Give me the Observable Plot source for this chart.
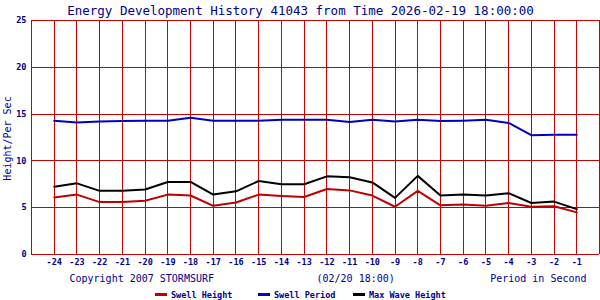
<!DOCTYPE html>
<html>
<head>
<meta charset="utf-8">
<script src="https://cdn.jsdelivr.net/npm/d3@7"></script>
<script src="https://cdn.jsdelivr.net/npm/@observablehq/plot@0.6"></script>
<style>
  body { margin: 0; background: #fff; }
  #wrap { position: relative; width: 600px; height: 300px; overflow: hidden; }
  #legend { position: absolute; left: 0; top: 289px; width: 600px; height: 12px;
            font-family: "DejaVu Sans Mono", monospace; font-size: 8.5px; font-weight: bold; color: #00008b; }
  .item { position: absolute; top: 0; height: 12px; line-height: 12px; white-space: nowrap; }
  .sw { display: inline-block; width: 12px; height: 3px; vertical-align: middle; margin-right: 4px; position: relative; top: -1px; }
</style>
</head>
<body>
<div id="wrap"><div id="chart"></div><div id="legend"></div></div>
<script>
const hours = [-24,-23,-22,-21,-20,-19,-18,-17,-16,-15,-14,-13,-12,-11,-10,-9,-8,-7,-6,-5,-4,-3,-2,-1];
const swellHeight = [6.1,6.4,5.6,5.6,5.75,6.4,6.3,5.2,5.55,6.4,6.25,6.15,7.0,6.85,6.3,5.1,6.8,5.25,5.35,5.2,5.5,5.1,5.15,4.5];
const swellPeriod = [14.3,14.1,14.2,14.25,14.3,14.3,14.6,14.3,14.3,14.3,14.4,14.4,14.4,14.15,14.4,14.2,14.4,14.25,14.3,14.4,14.05,12.75,12.8,12.8];
const maxWave = [7.25,7.6,6.8,6.8,6.95,7.75,7.75,6.4,6.75,7.85,7.5,7.5,8.35,8.25,7.7,6.05,8.4,6.3,6.4,6.3,6.55,5.5,5.65,4.85];
const yTicks = [0,5,10,15,20,25];
const xBorders = [-25, 0];
const seriesNames = ["Swell Height", "Swell Period", "Max Wave Height"];
const seriesColors = ["#c00000", "#0000c0", "#000000"];
const titleText = "Energy Development History 41043 from Time 2026-02-19 18:00:00";
const yLabel = "Height/Per Sec";
const footLeft = "Copyright 2007 STORMSURF";
const footMid = "(02/20 18:00)";
const footRight = "Period in Second";

const navy = "#00008b";
const mono = "DejaVu Sans Mono, monospace";
const allSeries = [swellHeight, swellPeriod, maxWave];
const rows = allSeries.flatMap((vals, s) => hours.map((h, i) => ({hour: h, value: vals[i], series: seriesNames[s]})));

const chart = Plot.plot({
  width: 600,
  height: 288,
  marginTop: 20,
  marginBottom: 34,
  marginLeft: 31,
  marginRight: 1,
  style: {fontFamily: mono, background: "#fff", overflow: "visible"},
  x: {domain: [-25, 0], axis: null, label: null},
  y: {domain: [0, 25], axis: null, label: null},
  color: {domain: seriesNames, range: seriesColors},
  marks: [
    Plot.ruleX(hours.concat(xBorders), {stroke: "#c80000", strokeWidth: 1, shapeRendering: "crispEdges"}),
    Plot.ruleY(yTicks, {stroke: "#c80000", strokeWidth: 1, shapeRendering: "crispEdges"}),
    Plot.axisX(hours, {label: null, tickSize: 0, tickPadding: 4, tickFormat: d => String(d), fontSize: 8.5, fontWeight: "bold", fill: navy, fontFamily: mono}),
    Plot.axisY(yTicks, {label: null, tickSize: 0, tickPadding: 5, tickFormat: d => String(d), fontSize: 8.5, fontWeight: "bold", fill: navy, fontFamily: mono}),
    Plot.line(rows, {x: "hour", y: "value", z: "series", stroke: "series", strokeWidth: 2}),
    Plot.text([titleText], {frameAnchor: "top", dx: -15, dy: -10, lineAnchor: "middle", fontSize: 12.5, fontWeight: "normal", fill: navy, fontFamily: mono}),
    Plot.text([yLabel], {frameAnchor: "left", textAnchor: "middle", rotate: -90, dx: -24, dy: 1, lineAnchor: "middle", fontSize: 10, fill: "#0000a0", fontFamily: mono}),
    Plot.text([footLeft], {frameAnchor: "bottom-left", textAnchor: "start", dx: 38, dy: 24, lineAnchor: "middle", fontSize: 10, fill: navy, fontFamily: mono}),
    Plot.text([footMid], {frameAnchor: "bottom-left", textAnchor: "start", dx: 285, dy: 24, lineAnchor: "middle", fontSize: 10, fill: navy, fontFamily: mono}),
    Plot.text([footRight], {frameAnchor: "bottom-right", textAnchor: "end", dx: -13, dy: 24, lineAnchor: "middle", fontSize: 10, fill: navy, fontFamily: mono})
  ]
});
document.getElementById("chart").appendChild(chart);

const legendLefts = [155, 258, 353];
const legend = document.getElementById("legend");
seriesNames.forEach((name, i) => {
  const item = document.createElement("div");
  item.className = "item";
  item.style.left = legendLefts[i] + "px";
  const sw = document.createElement("span");
  sw.className = "sw";
  sw.style.background = seriesColors[i];
  item.appendChild(sw);
  item.appendChild(document.createTextNode(name));
  legend.appendChild(item);
});
</script>
</body>
</html>
